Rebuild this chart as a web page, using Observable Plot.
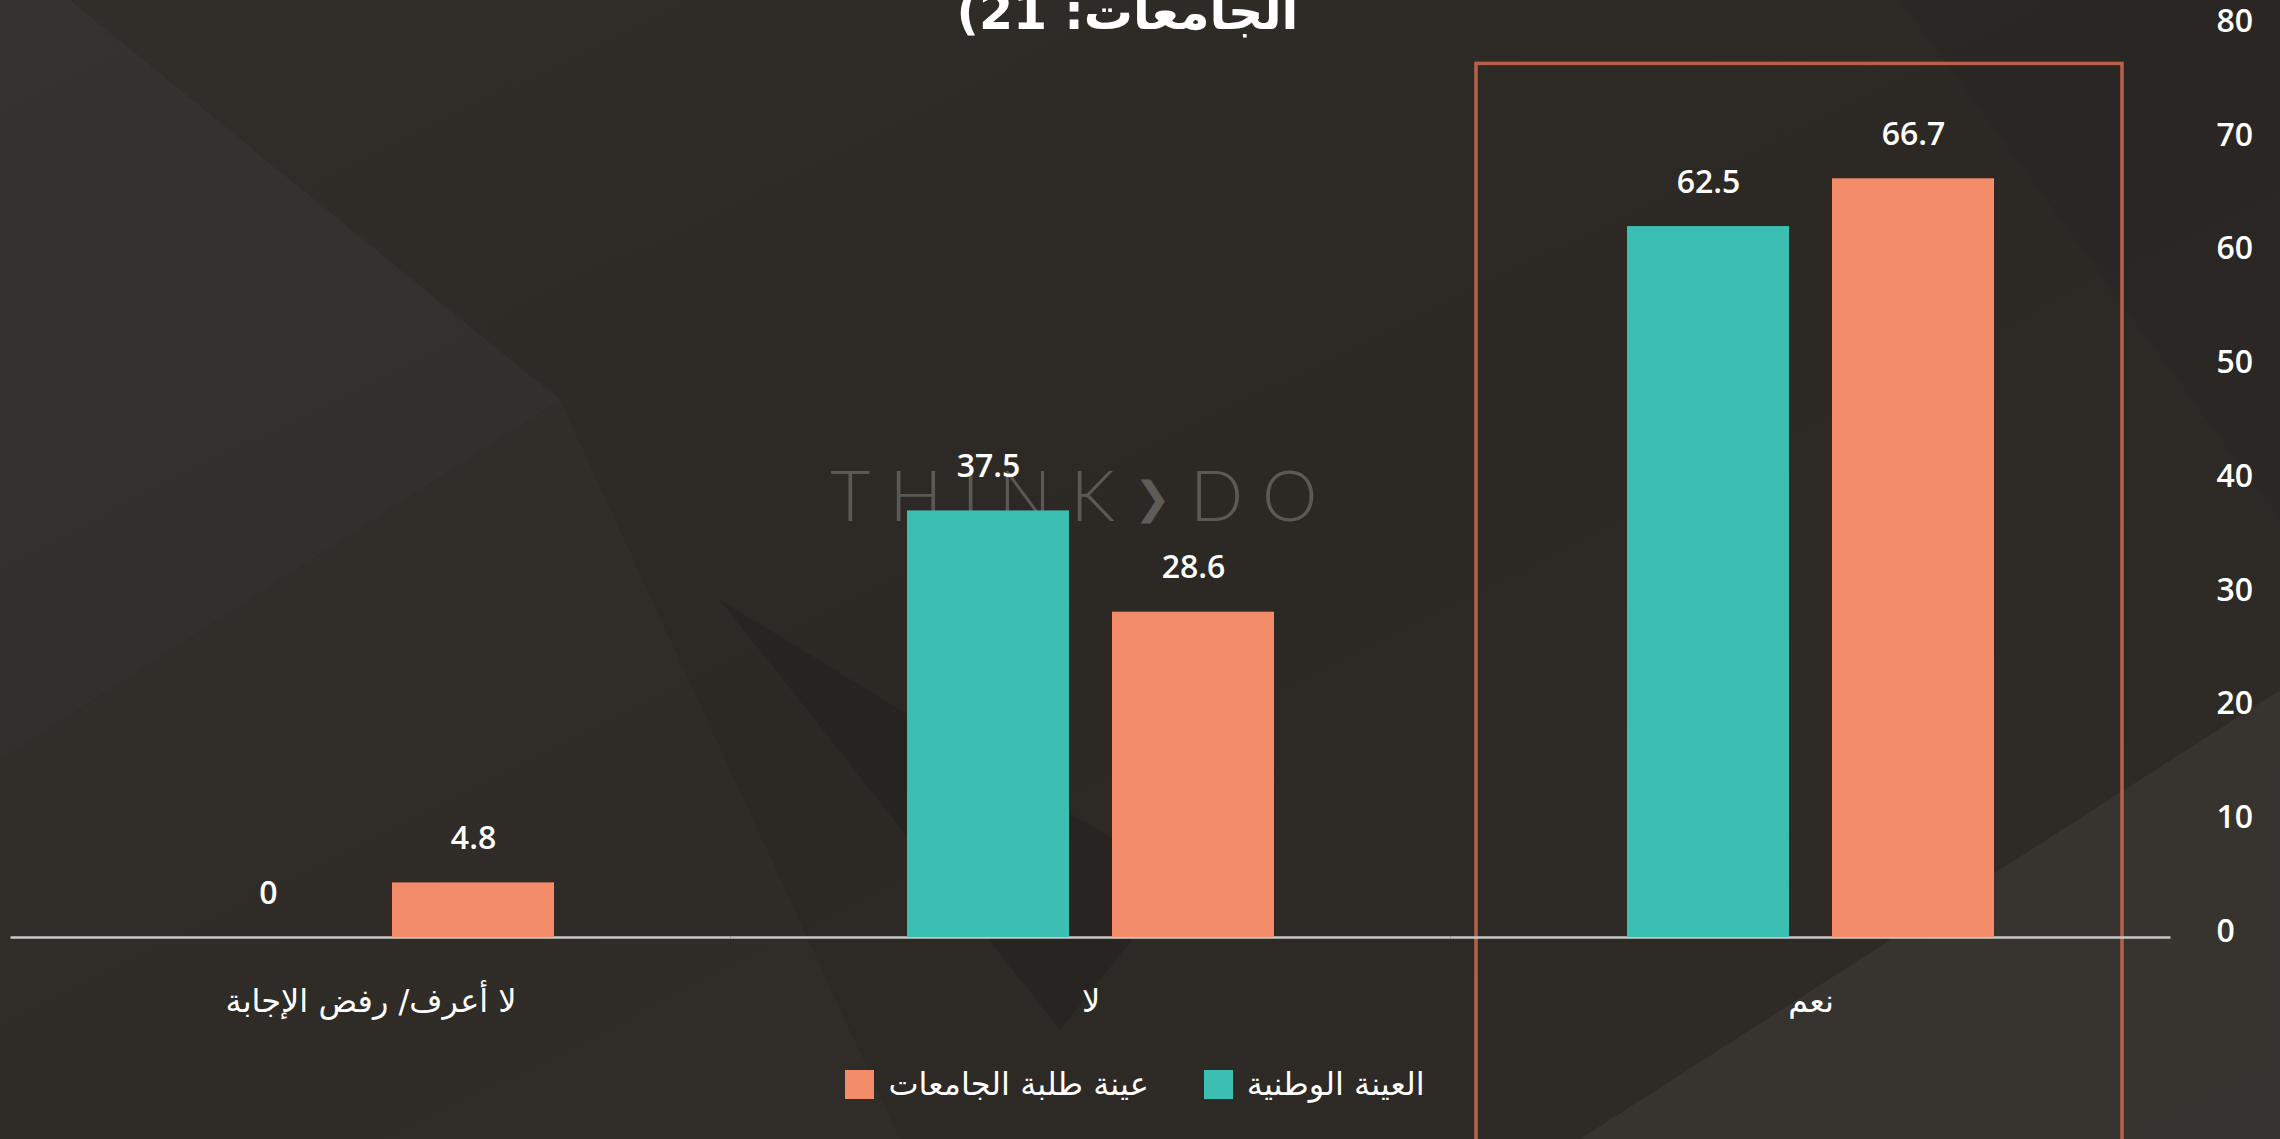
<!DOCTYPE html>
<html>
<head>
<meta charset="utf-8">
<script src="https://cdn.jsdelivr.net/npm/d3@7"></script>
<script src="https://cdn.jsdelivr.net/npm/@observablehq/plot@0.6"></script>
<style>
  html, body { margin: 0; padding: 0; }
  body { width: 2280px; height: 1139px; overflow: hidden; position: relative; background: #2d2a26; font-family: "Open Sans", "DejaVu Sans", sans-serif; }
  #bg { position: absolute; left: 0; top: 0; }
  #watermark { position: absolute; left: 830px; top: 452px; font-family: Lato, "DejaVu Sans", sans-serif; font-weight: 300; font-size: 70px; letter-spacing: 19px; color: #5c5954; white-space: nowrap; }
  #watermark .chev { font-family: "DejaVu Sans", sans-serif; font-size: 44px; color: #5f5c57; letter-spacing: 19px; position: relative; top: -8px; }
  #chart { position: absolute; left: 0; top: 0; }
  #title { position: absolute; left: 0; width: 2255px; top: -12px; text-align: center; color: #fff; font-family: "DejaVu Sans", sans-serif; font-weight: bold; font-size: 49px; line-height: 49px; white-space: nowrap; }
  #legend { position: absolute; left: 0; width: 2270px; top: 1065px; display: flex; justify-content: center; gap: 55px; color: #fff; font-family: "DejaVu Sans", sans-serif; font-size: 32px; }
  .item { display: flex; align-items: center; gap: 14px; }
  .sw { width: 29px; height: 29px; display: inline-block; }
</style>
</head>
<body>
<svg id="bg" width="2280" height="1139">
  <defs>
    <linearGradient id="g1" x1="0" y1="0" x2="1" y2="1">
      <stop offset="0" stop-color="#312e2a"/>
      <stop offset="0.5" stop-color="#2c2925"/>
      <stop offset="1" stop-color="#2f2c28"/>
    </linearGradient>
  </defs>
  <rect width="2280" height="1139" fill="url(#g1)"/>
  <polygon points="0,0 70,0 560,400 0,760" fill="#ffffff" opacity="0.025"/>
  <polygon points="0,760 560,400 900,1139 0,1139" fill="#ffffff" opacity="0.015"/>
  <polygon points="720,600 1180,880 1060,1030" fill="#000000" opacity="0.12"/>
  <polygon points="1580,1139 2280,690 2280,1139" fill="#ffffff" opacity="0.045"/>
  <polygon points="1900,0 2280,0 2280,520" fill="#000000" opacity="0.05"/>
</svg>
<div id="watermark">THINK<span class="chev">❯</span>DO</div>
<div id="chart"></div>
<div id="title" dir="rtl">الجامعات: 21)</div>
<div id="legend" dir="rtl"></div>
<script>
const categories = ["لا أعرف/ رفض الإجابة", "لا", "نعم"];
const series = ["العينة الوطنية", "عينة طلبة الجامعات"];
const nationalValues = [0, 37.5, 62.5];
const studentValues = [4.8, 28.6, 66.7];
const yTicks = [0, 10, 20, 30, 40, 50, 60, 70, 80];
const seriesColors = ["#3bbfb2", "#f38c69"];
const highlighted = ["نعم"];

const data = categories.flatMap((c, i) => [
  {category: c, series: series[0], value: nationalValues[i]},
  {category: c, series: series[1], value: studentValues[i]}
]);

const chart = Plot.plot({
  width: 2280,
  height: 1139,
  marginTop: 27,
  marginBottom: 202,
  marginLeft: 11,
  marginRight: 109,
  style: {background: "transparent", color: "#ffffff", fontFamily: "'Open Sans', 'DejaVu Sans', sans-serif", fontSize: "32px"},
  fx: {domain: categories, paddingInner: 0.49, paddingOuter: 0.245, label: null},
  x: {domain: series, paddingInner: 0.21, paddingOuter: 0, axis: null},
  y: {domain: [0, 80], label: null},
  color: {domain: series, range: seriesColors},
  marks: [
    Plot.rect(highlighted, {fx: d => d, y1: 76.8, y2: -20, fill: "none", stroke: "#b8614a", strokeWidth: 3.5, insetLeft: -151, insetRight: -128}),
    Plot.ruleY([0], {stroke: "#c9c7c4", strokeWidth: 2.5, insetLeft: -176.5, insetRight: -176.5}),
    Plot.barY(data, {fx: "category", x: "series", y: "value", fill: "series"}),
    Plot.text(data, {fx: "category", x: "series", y: "value", text: d => String(d.value), dy: -44, fill: "#ffffff", fontSize: 32, fontWeight: 600}),
    Plot.axisY({anchor: "right", ticks: yTicks, tickSize: 0, tickPadding: 222, textAnchor: "start", dy: -6, fontSize: 32, fontWeight: 600, fill: "#ffffff", label: null}),
    Plot.axisFx({anchor: "bottom", tickSize: 0, tickPadding: 52, fontSize: 32, fontFamily: "'DejaVu Sans', sans-serif", fill: "#ffffff", label: null})
  ]
});
document.getElementById("chart").appendChild(chart);

const legend = document.getElementById("legend");
series.forEach((s, i) => {
  const item = document.createElement("div");
  item.className = "item";
  const t = document.createElement("span");
  t.textContent = s;
  const sw = document.createElement("span");
  sw.className = "sw";
  sw.style.background = seriesColors[i];
  item.appendChild(t);
  item.appendChild(sw);
  legend.appendChild(item);
});
</script>
</body>
</html>
